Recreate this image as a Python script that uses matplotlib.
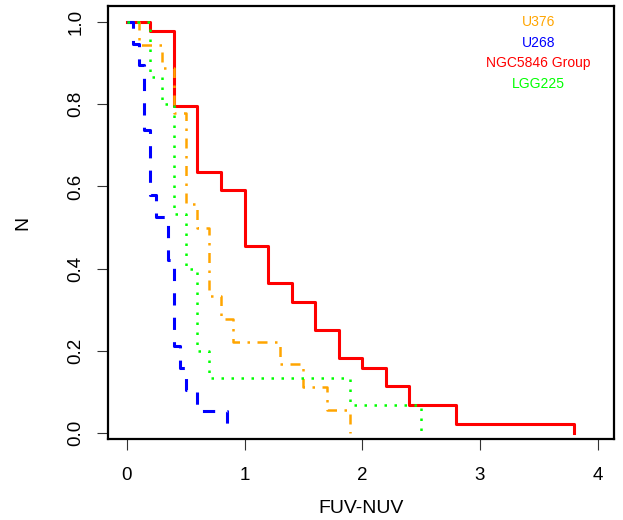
import numpy as np
import matplotlib.pyplot as plt

plt.rcParams['font.family'] = ['Liberation Sans', 'DejaVu Sans']

# step positions (FUV-NUV) and the fraction N left after each step
ngc_x = [0.0, 0.2, 0.4, 0.6, 0.8, 1.0, 1.2, 1.4, 1.6, 1.8, 2.0, 2.2, 2.4, 2.8, 3.8]
ngc_n = [1.0, 0.977, 0.795, 0.636, 0.591, 0.455, 0.364, 0.318, 0.25, 0.182, 0.159, 0.114, 0.068, 0.023, 0.0]

u376_x = [0.0, 0.1, 0.3, 0.4, 0.5, 0.6, 0.7, 0.8, 0.9, 1.3, 1.5, 1.7, 1.9]
u376_n = [1.0, 0.944, 0.889, 0.778, 0.556, 0.5, 0.333, 0.278, 0.222, 0.167, 0.111, 0.056, 0.0]

u268_x = [0.0, 0.05, 0.1, 0.15, 0.2, 0.25, 0.35, 0.4, 0.45, 0.5, 0.6, 0.85]
u268_n = [1.0, 0.947, 0.895, 0.737, 0.579, 0.526, 0.421, 0.211, 0.158, 0.105, 0.053, 0.0]

lgg_x = [0.0, 0.2, 0.3, 0.4, 0.5, 0.6, 0.7, 1.9, 2.5]
lgg_n = [1.0, 0.867, 0.8, 0.533, 0.4, 0.2, 0.133, 0.067, 0.0]

labels = ['U376', 'U268', 'NGC5846 Group', 'LGG225']
colors = ['#FFA500', '#0000FF', '#FF0000', '#00FF00']

fig = plt.figure(figsize=(6.23, 5.2), dpi=100)
ax = fig.add_axes([108/623, 1 - 439/520, (614 - 108)/623, (439 - 6)/520])

ax.step(ngc_x, ngc_n, where='post', color=colors[2], lw=2.2)
ax.step(u376_x, u376_n, where='post', color=colors[0], lw=1.8, linestyle=(0, (1, 3, 4, 3)))
ax.step(u268_x, u268_n, where='post', color=colors[1], lw=2.2, linestyle=(0, (4, 4)))
ax.step(lgg_x, lgg_n, where='post', color=colors[3], lw=1.8, linestyle=(0, (1, 3)))

# legend as coloured text only
for i, (lab, c) in enumerate(zip(labels, colors)):
    ax.text(3.5, 1.0 - 0.05 * i, lab, color=c, fontsize=10, ha='center', va='center')

ax.set_xlim(-0.16, 4.14)
ax.set_ylim(-0.0146, 1.039)
ax.set_xticks([0, 1, 2, 3, 4])
ax.set_yticks([0.0, 0.2, 0.4, 0.6, 0.8, 1.0])
ax.set_yticklabels(['0.0', '0.2', '0.4', '0.6', '0.8', '1.0'], rotation=90, va='center')
ax.tick_params(labelsize=13.5, length=8, width=0.8, color='#333333')
ax.tick_params(axis='x', pad=12)
ax.tick_params(axis='y', pad=9)
for s in ax.spines.values():
    s.set_linewidth(1.6)

ax.set_xlabel('FUV-NUV', fontsize=14, labelpad=12)
ax.set_ylabel('N', fontsize=14, labelpad=26)

fig.savefig('out.png', dpi=100)
